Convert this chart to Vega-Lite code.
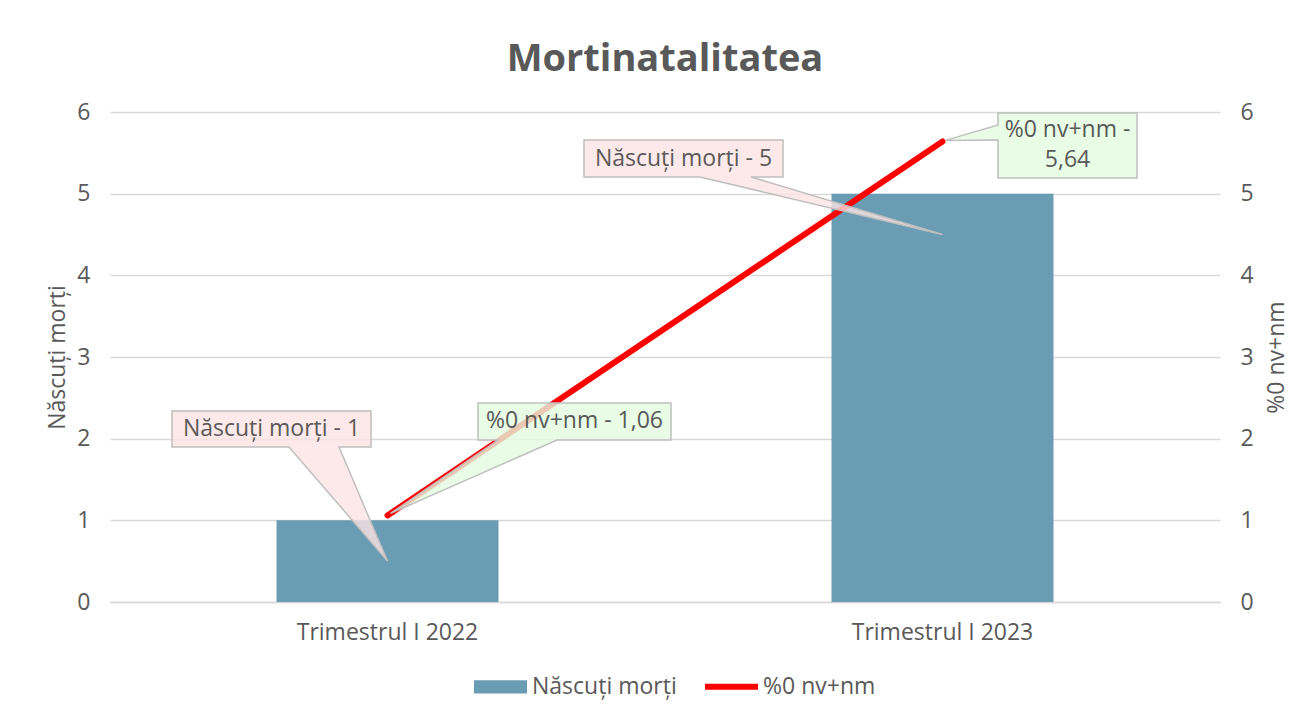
{
  "$schema": "https://vega.github.io/schema/vega-lite/v6.json",
  "width": 1110,
  "height": 490,
  "autosize": {"type": "none"},
  "padding": {"left": 110, "top": 112, "right": 92, "bottom": 113},
  "background": "white",
  "config": {
    "view": {"stroke": null},
    "font": "Open Sans",
    "axis": {"labelFont": "Open Sans", "titleFont": "Open Sans"},
    "legend": {"labelFont": "Open Sans"}
  },
  "title": {
    "text": "Mortinatalitatea",
    "fontSize": 38,
    "fontWeight": "bold",
    "color": "#595959",
    "font": "Open Sans",
    "anchor": "middle",
    "frame": "group",
    "offset": 22
  },
  "data": {
    "values": [
      {"trim": "Trimestrul I 2022", "nm": 1, "pct": 1.06, "lblNm": "Născuți morți - 1", "lblPct": "%0 nv+nm - 1,06"},
      {"trim": "Trimestrul I 2023", "nm": 5, "pct": 5.64, "lblNm": "Născuți morți - 5", "lblPct": "%0 nv+nm -\n5,64"}
    ]
  },
  "layer": [
    {
      "mark": {"type": "bar", "width": {"band": 0.4}, "color": "#6A9CB3"},
      "encoding": {
        "x": {
          "field": "trim", "type": "nominal", "sort": null,
          "scale": {"paddingInner": 0, "paddingOuter": 0},
          "axis": {"title": null, "labelAngle": 0, "labelFontSize": 23, "labelColor": "#595959", "labelPadding": 19, "labelLimit": 400, "ticks": false, "domain": true, "domainColor": "#D9D9D9", "domainWidth": 1.5}
        },
        "y": {
          "field": "nm", "type": "quantitative",
          "scale": {"domain": [0, 6], "nice": false},
          "axis": {"orient": "left", "title": "Născuți morți", "titleFontSize": 23, "titleFontWeight": "normal", "titleColor": "#595959", "titlePadding": 7, "labelFontSize": 23, "labelColor": "#595959", "labelPadding": 20, "domain": false, "ticks": false, "grid": true, "gridColor": "#D9D9D9", "gridWidth": 1.5, "values": [0, 1, 2, 3, 4, 5, 6]}
        },
        "color": {
          "datum": "Născuți morți", "type": "nominal",
          "scale": {"domain": ["Născuți morți", "%0 nv+nm"], "range": ["#6A9CB3", "#FF0000"]},
          "legend": {
            "orient": "none", "legendX": 364, "legendY": 548, "direction": "horizontal", "title": null,
            "symbolType": "M -1 -0.25 L 1 -0.25 L 1 0.25 L -1 0.25 Z", "symbolSize": 2809, "symbolStrokeWidth": 0,
            "labelFontSize": 23, "labelColor": "#595959", "labelOffset": 5, "columnPadding": 28, "labelLimit": 400,
            "encode": {
              "symbols": {
                "update": {
                  "shape": {"signal": "datum.value === '%0 nv+nm' ? 'M -1 -0.25 L -1 0.25 M -1 -0.11 L 1 -0.11 L 1 0.11 L -1 0.11 Z' : 'M -1 -0.25 L 1 -0.25 L 1 0.25 L -1 0.25 Z'"},
                  "fill": {"signal": "datum.value === '%0 nv+nm' ? '#FF0000' : '#6A9CB3'"},
                  "strokeWidth": {"value": 0},
                  "opacity": {"value": 1},
                  "fillOpacity": {"value": 1}
                }
              }
            }
          }
        }
      }
    },
    {
      "mark": {"type": "line", "strokeWidth": 6, "strokeCap": "round", "strokeJoin": "round"},
      "encoding": {
        "x": {"field": "trim", "type": "nominal", "sort": null},
        "y": {
          "field": "pct", "type": "quantitative",
          "scale": {"domain": [0, 6], "nice": false},
          "axis": {"orient": "right", "title": "%0 nv+nm", "titleAngle": 270, "titleBaseline": "top", "titleFontSize": 23, "titleFontWeight": "normal", "titleColor": "#595959", "titlePadding": 12, "labelFontSize": 23, "labelColor": "#595959", "labelPadding": 20, "domain": false, "ticks": false, "grid": false, "values": [0, 1, 2, 3, 4, 5, 6]}
        },
        "color": {"datum": "%0 nv+nm", "type": "nominal"}
      }
    },
    {
      "mark": {"type": "point", "filled": true, "opacity": 1, "fill": "#FDE3E3", "fillOpacity": 0.8, "stroke": "#BFBFBF", "strokeWidth": 1.5, "strokeOpacity": 1, "size": 40000},
      "encoding": {
        "x": {"field": "trim", "type": "nominal", "sort": null},
        "y": {"field": "nm", "type": "quantitative", "scale": {"domain": [0, 6], "nice": false}, "axis": null},
        "shape": {
          "field": "trim", "type": "nominal",
          "scale": {
            "domain": ["Trimestrul I 2022", "Trimestrul I 2023"],
            "range": [
              "M -2.155 -1.093 L -0.165 -1.093 L -0.165 -0.733 L -0.485 -0.733 L 0 0.408 L -0.985 -0.733 L -2.155 -0.733 Z",
              "M -3.585 -0.537 L -1.595 -0.537 L -1.595 -0.167 L -1.915 -0.167 L 0 0.408 L -2.425 -0.167 L -3.585 -0.167 Z"
            ]
          },
          "legend": null
        }
      }
    },
    {
      "mark": {"type": "point", "filled": true, "opacity": 1, "fill": "#E3FBE0", "fillOpacity": 0.8, "stroke": "#BFBFBF", "strokeWidth": 1.5, "strokeOpacity": 1, "size": 40000},
      "encoding": {
        "x": {"field": "trim", "type": "nominal", "sort": null},
        "y": {"field": "pct", "type": "quantitative", "scale": {"domain": [0, 6], "nice": false}, "axis": null},
        "shape": {
          "field": "trim", "type": "nominal",
          "scale": {
            "domain": ["Trimestrul I 2022", "Trimestrul I 2023"],
            "range": [
              "M 0.905 -1.124 L 2.835 -1.124 L 2.835 -0.754 L 1.695 -0.754 L 0.03 -0.02 L 1.105 -0.754 L 0.905 -0.754 Z",
              "M 0.555 -0.284 L 1.945 -0.284 L 1.945 0.366 L 0.555 0.366 L 0.555 -0.014 L 0.03 -0.01 L 0.555 -0.164 Z"
            ]
          },
          "legend": null
        }
      }
    },
    {
      "transform": [{"filter": "datum.trim === 'Trimestrul I 2022'"}],
      "mark": {"type": "text", "dx": -116, "dy": -91, "fontSize": 23, "color": "#595959", "align": "center", "baseline": "middle"},
      "encoding": {
        "x": {"field": "trim", "type": "nominal", "sort": null},
        "y": {"field": "nm", "type": "quantitative", "scale": {"domain": [0, 6], "nice": false}, "axis": null},
        "text": {"field": "lblNm"}
      }
    },
    {
      "transform": [{"filter": "datum.trim === 'Trimestrul I 2023'"}],
      "mark": {"type": "text", "dx": -259, "dy": -35, "fontSize": 23, "color": "#595959", "align": "center", "baseline": "middle"},
      "encoding": {
        "x": {"field": "trim", "type": "nominal", "sort": null},
        "y": {"field": "nm", "type": "quantitative", "scale": {"domain": [0, 6], "nice": false}, "axis": null},
        "text": {"field": "lblNm"}
      }
    },
    {
      "transform": [{"filter": "datum.trim === 'Trimestrul I 2022'"}],
      "mark": {"type": "text", "dx": 187, "dy": -94, "fontSize": 23, "color": "#595959", "align": "center", "baseline": "middle"},
      "encoding": {
        "x": {"field": "trim", "type": "nominal", "sort": null},
        "y": {"field": "pct", "type": "quantitative", "scale": {"domain": [0, 6], "nice": false}, "axis": null},
        "text": {"field": "lblPct"}
      }
    },
    {
      "transform": [{"filter": "datum.trim === 'Trimestrul I 2023'"}],
      "mark": {"type": "text", "dx": 125, "dy": -11, "fontSize": 23, "lineHeight": 30, "lineBreak": "\n", "color": "#595959", "align": "center", "baseline": "middle"},
      "encoding": {
        "x": {"field": "trim", "type": "nominal", "sort": null},
        "y": {"field": "pct", "type": "quantitative", "scale": {"domain": [0, 6], "nice": false}, "axis": null},
        "text": {"field": "lblPct"}
      }
    }
  ],
  "resolve": {"scale": {"y": "independent", "shape": "independent"}, "axis": {"y": "independent"}}
}
